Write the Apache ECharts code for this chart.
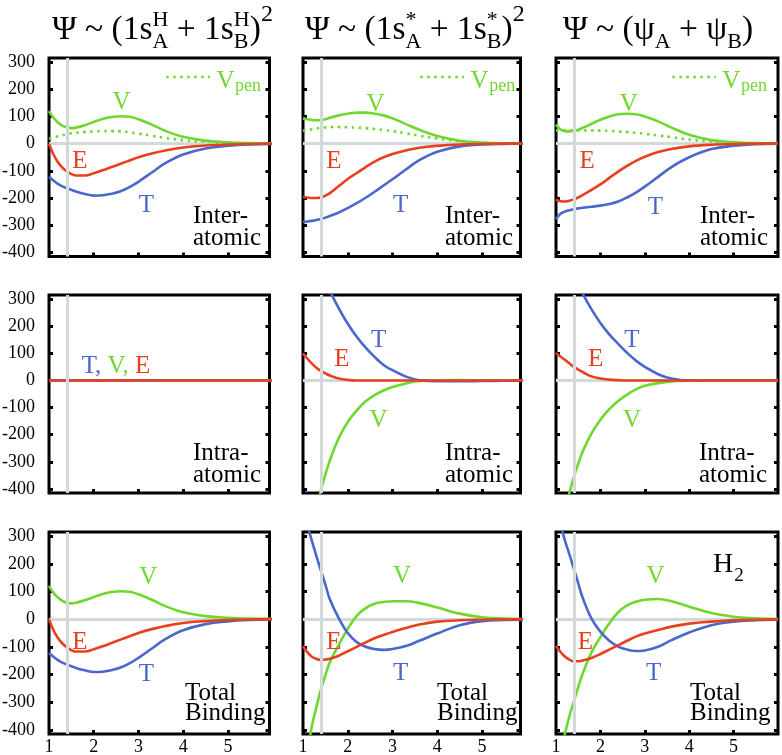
<!DOCTYPE html>
<html><head><meta charset="utf-8">
<script src="https://cdn.jsdelivr.net/npm/echarts@6/dist/echarts.min.js"></script>
<style>html,body{margin:0;padding:0;background:#fff}#c{width:782px;height:755px}</style>
</head><body><div id="c"></div>
<script>
// ---------------- data ----------------
const X = [1.0, 1.1, 1.2, 1.3, 1.4, 1.5, 1.6, 1.8, 2.0, 2.2, 2.4, 2.6, 2.8, 3.0, 3.3, 3.6, 4.0, 4.5, 5.0, 5.5, 6.0];
const X_TICKS = [1, 2, 3, 4, 5];
const Y_TICKS = [-400, -300, -200, -100, 0, 100, 200, 300];
const R_EQ = 1.4;

// Row 1: inter-atomic
const P11_V    = [120, 95, 78, 66, 59, 57, 59, 68, 80, 91, 98, 101, 99, 90, 70, 47, 25, 11, 5, 2, 1];
const P11_E    = [0, -40, -68, -88, -102, -112, -117, -117, -109, -98, -86, -74, -62, -50, -36, -25, -14, -7, -3, -1, 0];
const P11_T    = [-122, -136, -148, -157, -164, -170, -176, -185, -191, -190, -184, -175, -160, -140, -106, -72, -40, -18, -8, -3, -1];
const P11_Vpen = [18, 22, 27, 31, 35, 38, 40, 43, 45, 46, 46, 45, 42, 37, 29, 21, 13, 6, 3, 1, 0];

const P12_V    = [93, 90, 87, 86, 87, 90, 95, 104, 110, 114, 114, 110, 104, 93, 72, 51, 28, 11, 4, 1, 0];
const P12_E    = [-196, -198, -200, -200, -198, -191, -182, -156, -130, -108, -86, -66, -50, -38, -25, -15, -8, -3, -1, 0, 0];
const P12_T    = [-287, -286, -284, -281, -277, -272, -266, -253, -237, -219, -199, -177, -154, -131, -95, -61, -30, -10, -3, -1, 0];
const P12_Vpen = [47, 50, 53, 56, 58, 60, 61, 61, 60, 59, 57, 54, 50, 46, 38, 29, 19, 9, 4, 1, 0];

const P13_V    = [70, 52, 46, 45, 47, 51, 58, 73, 88, 100, 108, 110, 108, 100, 82, 59, 33, 13, 5, 2, 0];
const P13_E    = [-205, -212, -213, -210, -205, -198, -189, -170, -150, -126, -103, -82, -63, -48, -31, -20, -10, -4, -1, 0, 0];
const P13_T    = [-278, -258, -250, -245, -241, -238, -236, -232, -228, -222, -213, -198, -180, -158, -122, -86, -50, -20, -8, -2, 0];
const P13_Vpen = [48, 49, 49, 49, 49, 49, 49, 49, 48, 47, 45, 43, 40, 36, 30, 24, 15, 8, 3, 1, 0];

// Row 2: intra-atomic
const P21_V = [0, 0, 0, 0, 0, 0, 0, 0, 0, 0, 0, 0, 0, 0, 0, 0, 0, 0, 0, 0, 0];
const P21_E = [0, 0, 0, 0, 0, 0, 0, 0, 0, 0, 0, 0, 0, 0, 0, 0, 0, 0, 0, 0, 0];
const P21_T = [0, 0, 0, 0, 0, 0, 0, 0, 0, 0, 0, 0, 0, 0, 0, 0, 0, 0, 0, 0, 0];

const P22_V = [-780, -660, -560, -475, -405, -347, -295, -212, -153, -110, -77, -54, -37, -24, -11, -2, 0, 1, 0, 0, 0];
const P22_E = [100, 80, 62, 47, 35, 26, 18, 7, 2, 0, 0, 0, 0, 0, 0, 0, 0, 0, 0, 0, 0];
const P22_T = [640, 570, 505, 450, 405, 365, 330, 266, 209, 161, 121, 87, 57, 38, 14, 1, -3, -3, -2, -1, 0];

const P23_V = [-640, -555, -480, -415, -357, -307, -263, -195, -145, -106, -76, -52, -33, -20, -10, -4, -1, 0, 0, 0, 0];
const P23_E = [101, 88, 76, 63, 50, 40, 31, 15, 7, 3, 1, 0, 0, 0, 0, 0, 0, 0, 0, 0, 0];
const P23_T = [585, 530, 480, 435, 393, 355, 320, 262, 212, 170, 135, 102, 73, 50, 23, 7, 0, 0, 0, 0, 0];

// Row 3: total binding
const P31_V = [120, 95, 78, 66, 59, 57, 59, 68, 80, 91, 98, 101, 99, 90, 70, 47, 25, 11, 5, 2, 1];
const P31_E = [0, -40, -68, -88, -102, -112, -117, -117, -109, -98, -86, -74, -62, -50, -36, -25, -14, -7, -3, -1, 0];
const P31_T = [-122, -136, -148, -157, -164, -170, -176, -185, -191, -190, -184, -175, -160, -140, -106, -72, -40, -18, -8, -3, -1];

const P32_V = [-575, -475, -385, -318, -254, -202, -156, -92, -35, 12, 40, 56, 62, 65, 65, 58, 42, 20, 7, 2, 0];
const P32_E = [-98, -120, -136, -144, -147, -146, -143, -132, -116, -100, -84, -69, -57, -46, -32, -19, -9, -4, -2, -1, 0];
const P32_T = [400, 338, 282, 228, 176, 125, 72, 3, -50, -83, -100, -108, -111, -108, -97, -78, -52, -22, -7, -3, -2];

const P33_V = [-585, -495, -415, -352, -298, -246, -197, -120, -65, -15, 25, 50, 63, 70, 73, 65, 45, 22, 9, 3, 1];
const P33_E = [-97, -118, -135, -146, -152, -152, -149, -140, -126, -110, -94, -78, -63, -52, -39, -27, -16, -9, -4, -2, -1];
const P33_T = [410, 345, 285, 235, 183, 130, 78, 2, -45, -78, -99, -110, -115, -113, -100, -76, -48, -22, -9, -4, -1];

// ---------------- layout & style ----------------
const FONT = '"Liberation Serif", "Times New Roman", serif';
const GREEN = '#6fd82e', RED = '#e8401e', BLUE = '#4a68cc', GRAY = '#d3d9d9', BLACK = '#000';
const COL_LEFT = [49, 303, 556], COL_W = [220.5, 217.5, 222], COL_XMAX = [5.93, 5.86, 6.0];
const ROW_TOP = [58, 295, 532], ROW_H = [198.5, 198, 202];
const Y_MIN = -415, Y_MAX = 315;
const LW = 2.6;

const panels = [
  {V: P11_V, E: P11_E, T: P11_T, Vp: P11_Vpen, lab: [['V', 2.62, 159], ['E', 1.69, -58], ['T', 3.18, -221]], note: ['Inter-', 'atomic'], noteX: 144, noteB: [165, 187]},
  {V: P12_V, E: P12_E, T: P12_T, Vp: P12_Vpen, lab: [['V', 2.62, 153], ['E', 1.69, -58], ['T', 3.18, -221]], note: ['Inter-', 'atomic'], noteX: 142, noteB: [165, 187]},
  {V: P13_V, E: P13_E, T: P13_T, Vp: P13_Vpen, lab: [['V', 2.64, 153], ['E', 1.70, -58], ['T', 3.24, -227]], note: ['Inter-', 'atomic'], noteX: 144, noteB: [165, 187]},
  {V: P21_V, E: P21_E, T: P21_T, lab: [], tve: [1.73, 58], note: ['Intra-', 'atomic'], noteX: 144, noteB: [165, 187]},
  {V: P22_V, E: P22_E, T: P22_T, lab: [['T', 2.69, 156], ['E', 1.87, 86], ['V', 2.69, -139]], note: ['Intra-', 'atomic'], noteX: 142, noteB: [165, 187]},
  {V: P23_V, E: P23_E, T: P23_T, lab: [['T', 2.71, 156], ['E', 1.89, 86], ['V', 2.71, -139]], note: ['Intra-', 'atomic'], noteX: 143, noteB: [165, 187]},
  {V: P31_V, E: P31_E, T: P31_T, lab: [['V', 3.22, 159], ['E', 1.69, -77], ['T', 3.18, -194]], note: ['Total', 'Binding'], noteX: 136, noteB: [168, 188]},
  {V: P32_V, E: P32_E, T: P32_T, lab: [['V', 3.21, 160], ['E', 1.69, -77], ['T', 3.18, -189]], note: ['Total', 'Binding'], noteX: 134, noteB: [168, 188]},
  {V: P33_V, E: P33_E, T: P33_T, lab: [['V', 3.24, 160], ['E', 1.66, -77], ['T', 3.20, -189]], note: ['Total', 'Binding'], noteX: 134, noteB: [168, 188], h2: true}
];
const COLOR_OF = {V: GREEN, E: RED, T: BLUE};

function pairs(arr) { return X.map((x, i) => [x, arr[i]]); }

const grid = [], xAxis = [], yAxis = [], series = [];
const firstSeriesOf = [];
panels.forEach((p, i) => {
  const r = Math.floor(i / 3), c = i % 3;
  grid.push({left: COL_LEFT[c], top: ROW_TOP[r], width: COL_W[c], height: ROW_H[r],
    show: true, borderColor: BLACK, borderWidth: 3, backgroundColor: 'transparent',
    containLabel: false, outerBoundsMode: 'none'});
  xAxis.push({type: 'value', gridIndex: i, min: 1, max: COL_XMAX[c], position: 'bottom',
    axisLine: {show: false, onZero: false},
    axisTick: {show: true, inside: true, length: 4, lineStyle: {color: BLACK, width: 3}, customValues: X_TICKS},
    axisLabel: {show: r === 2, customValues: X_TICKS, color: BLACK, fontFamily: FONT, fontSize: 18, margin: 4},
    splitLine: {show: false}});
  const yBase = {type: 'value', gridIndex: i, min: Y_MIN, max: Y_MAX,
    axisLine: {show: false, onZero: false}, splitLine: {show: false},
    axisTick: {show: true, inside: true, length: 4, lineStyle: {color: BLACK, width: 3}, customValues: Y_TICKS}};
  yAxis.push(Object.assign({}, yBase, {position: 'left',
    axisLabel: {show: c === 0, customValues: Y_TICKS, color: BLACK, fontFamily: FONT, fontSize: 18, margin: 14}}));
  yAxis.push(Object.assign({}, yBase, {position: 'right', axisLabel: {show: false}}));

  const common = {type: 'line', xAxisIndex: i, yAxisIndex: 2 * i, showSymbol: false, symbol: 'none',
    smooth: 0.4, silent: true, animation: false, z: 3};
  // horizontal reference line (below curves)
  series.push({type: 'line', xAxisIndex: i, yAxisIndex: 2 * i, data: [], silent: true, z: 1, animation: false,
    markLine: {silent: true, z: 1, symbol: ['none', 'none'], label: {show: false}, animation: false,
      lineStyle: {color: GRAY, width: 3, type: 'solid'}, emphasis: {disabled: true},
      data: [{yAxis: 0}]}});
  firstSeriesOf.push(series.length);
  if (p.Vp) series.push(Object.assign({}, common, {name: 'Vpen', data: pairs(p.Vp),
    lineStyle: {color: GREEN, width: LW, type: [2.5, 4.5], cap: 'butt'}}));
  series.push(Object.assign({}, common, {name: 'V', data: pairs(p.V), lineStyle: {color: GREEN, width: LW}}));
  series.push(Object.assign({}, common, {name: 'T', data: pairs(p.T), lineStyle: {color: BLUE, width: LW}}));
  series.push(Object.assign({}, common, {name: 'E', data: pairs(p.E), lineStyle: {color: RED, width: LW}}));
  // vertical reference line at equilibrium distance (drawn over curves)
  series.push({type: 'line', xAxisIndex: i, yAxisIndex: 2 * i, data: [], silent: true, z: 10, animation: false,
    markLine: {silent: true, z: 10, symbol: ['none', 'none'], label: {show: false}, animation: false,
      lineStyle: {color: GRAY, width: 3, type: 'solid'}, emphasis: {disabled: true},
      data: [{xAxis: R_EQ}]}});
});

const chart = echarts.init(document.getElementById('c'), null, {renderer: 'canvas'});
chart.setOption({animation: false, backgroundColor: '#fff', grid, xAxis, yAxis, series});

// ---------------- text annotations ----------------
const ctx = document.createElement('canvas').getContext('2d');
function metrics(size) {
  ctx.font = size + 'px ' + FONT;
  ctx.textBaseline = 'middle';
  const m = ctx.measureText('H');
  return {base: m.actualBoundingBoxDescent, cap: m.actualBoundingBoxAscent + m.actualBoundingBoxDescent};
}
function width(t, size) { ctx.font = size + 'px ' + FONT; return ctx.measureText(t).width; }
function txt(t, x, baseline, size, fill, align) {
  const m = metrics(size);
  return {type: 'text', x: x, y: baseline - m.base, z: 100, silent: true,
    style: {text: t, font: size + 'px ' + FONT, fill: fill || BLACK,
      align: align || 'left', textAlign: align || 'left', verticalAlign: 'middle', textVerticalAlign: 'middle'}};
}
function txtCap(t, x, capCenter, size, fill, align) {
  const m = metrics(size);
  return txt(t, x, capCenter + m.cap / 2, size, fill, align);
}
function seq(pieces, x0, baseline) {
  const out = [];
  let x = x0;
  pieces.forEach(p => {
    if (p.t !== undefined) {
      out.push(txt(p.t, x, baseline + (p.dy || 0), p.size, p.fill));
      x += width(p.t, p.size);
    } else {
      let w = 0;
      if (p.sup) { out.push(txt(p.sup, x, baseline + p.dyUp, p.size)); w = Math.max(w, width(p.sup, p.size)); }
      if (p.sub) { out.push(txt(p.sub, x, baseline + p.dyDown, p.size)); w = Math.max(w, width(p.sub, p.size)); }
      x += w;
    }
  });
  return out;
}

const graphics = [];
const MAIN = 33.5, SM = 22, UP = -13, DOWN = 9;
graphics.push(...seq([
  {t: 'Ψ ~ (1s', size: MAIN}, {sup: 'H', sub: 'A', size: SM, dyUp: UP, dyDown: DOWN},
  {t: ' + 1s', size: MAIN}, {sup: 'H', sub: 'B', size: SM, dyUp: UP, dyDown: DOWN},
  {t: ')', size: MAIN}, {t: '2', size: 24, dy: -18}], 52, 39));
graphics.push(...seq([
  {t: 'Ψ ~ (1s', size: MAIN}, {sup: '*', sub: 'A', size: SM, dyUp: UP, dyDown: DOWN},
  {t: ' + 1s', size: MAIN}, {sup: '*', sub: 'B', size: SM, dyUp: UP, dyDown: DOWN},
  {t: ')', size: MAIN}, {t: '2', size: 24, dy: -18}], 305, 39));
graphics.push(...seq([
  {t: 'Ψ ~ (ψ', size: MAIN}, {sub: 'A', size: SM, dyDown: DOWN},
  {t: ' + ψ', size: MAIN}, {sub: 'B', size: SM, dyDown: DOWN},
  {t: ')', size: MAIN}], 563, 39));

panels.forEach((p, i) => {
  const r = Math.floor(i / 3), c = i % 3;
  const si = firstSeriesOf[i];
  const gl = COL_LEFT[c], gt = ROW_TOP[r];
  p.lab.forEach(([t, x, y]) => {
    const pt = chart.convertToPixel({seriesIndex: si}, [x, y]);
    graphics.push(txtCap(t, pt[0], pt[1], 25, COLOR_OF[t], 'center'));
  });
  if (p.tve) {
    const pt = chart.convertToPixel({seriesIndex: si}, p.tve);
    const m = metrics(25);
    graphics.push(...seq([{t: 'T, ', size: 25, fill: BLUE}, {t: 'V, ', size: 25, fill: GREEN}, {t: 'E', size: 25, fill: RED}],
      pt[0], pt[1] + m.cap / 2));
  }
  graphics.push(txt(p.note[0], gl + p.noteX, gt + p.noteB[0], 25));
  graphics.push(txt(p.note[1], gl + p.noteX, gt + p.noteB[1], 25));
  if (p.Vp) {
    const a = chart.convertToPixel({seriesIndex: si}, [3.62, 245]);
    const b = chart.convertToPixel({seriesIndex: si}, [4.60, 245]);
    graphics.push({type: 'line', z: 100, silent: true, shape: {x1: a[0], y1: a[1], x2: b[0], y2: b[1]},
      style: {stroke: GREEN, lineWidth: LW, lineDash: [2.5, 4.5], lineCap: 'butt'}});
    const vx = b[0] + 6.5;
    graphics.push(txtCap('V', vx, a[1] + 2.3, 25, GREEN));
    graphics.push(txt('pen', vx + width('V', 25) + 0.5, a[1] + 14, 18, GREEN));
  }
  if (p.h2) {
    graphics.push(txt('H', gl + 157, gt + 39.7, 28));
    graphics.push(txt('2', gl + 157 + width('H', 28) + 1, gt + 49, 19));
  }
});
chart.setOption({graphic: {elements: graphics}});
</script>
</body></html>
